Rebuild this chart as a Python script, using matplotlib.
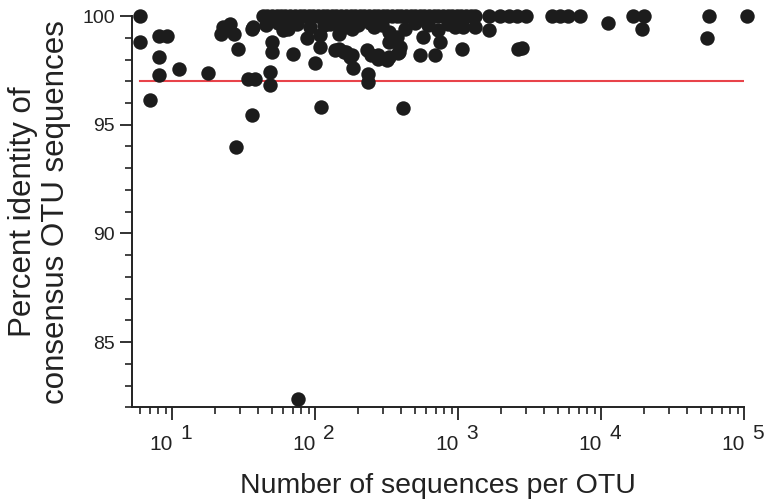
import matplotlib
matplotlib.use("Agg")
import matplotlib.pyplot as plt
from matplotlib.ticker import LogLocator, MultipleLocator, NullFormatter

# OTU size (number of sequences) and percent identity of consensus sequence
seqs_low = [6.0, 6.0, 8.1, 9.2, 8.1, 8.1, 7.0, 11.1, 17.9, 34.2, 38, 36, 28,
            22.7, 25.4, 21.9, 27.1, 29.1, 36, 37, 49.8, 49.8, 48.5, 48.5,
            69.8, 100, 109.6, 76]
pct_low = [100, 98.83, 99.08, 99.1, 98.14, 97.27, 96.15, 97.58, 97.39, 97.1,
           97.1, 95.47, 93.96, 99.5, 99.65, 99.19, 99.19, 98.5, 99.42, 99.5,
           98.83, 98.34, 97.45, 96.84, 98.27, 97.85, 95.8, 82.38]

# OTUs at 100% identity
seqs_top = [43, 46, 50, 54, 58, 62, 67, 72, 78, 84, 90, 97, 105, 113, 122,
            131, 141, 152, 164, 177, 190, 205, 221, 238, 256, 276, 297, 320,
            345, 372, 400, 431, 465, 500, 540, 580, 625, 675, 727, 783, 845,
            910, 980, 1055, 1140, 1230, 1320, 1630, 1970, 2250, 2560, 3000,
            4520, 5150, 5860, 7120, 16800, 19800, 57100, 105000]
pct_top = [100] * len(seqs_top)

# OTUs just under 100%
seqs_mid = [74.1, 92.2, 60, 127, 162, 146, 108, 292, 326, 426, 373, 571, 728,
            1089, 1315, 1630, 11140, 19300, 54800, 200, 240, 180, 260, 500,
            620, 850, 950, 140, 115, 55, 65, 45, 88]
pct_mid = [99.65, 99.5, 99.34, 99.65, 99.5, 99.19, 99.11, 99.57, 99.26,
           99.42, 99.03, 99.03, 99.34, 99.5, 99.5, 99.34, 99.68, 99.42, 99.0,
           99.6, 99.7, 99.4, 99.5, 99.7, 99.6, 99.65, 99.5, 99.75, 99.6, 99.7,
           99.4, 99.6, 99.0]

# lower identity OTUs
seqs_bot = [108, 138, 158, 180, 146, 165, 175, 229, 245, 277, 317, 378, 542,
            690, 1062, 2640, 2790, 185, 233, 233, 410, 326, 393, 277, 326,
            383, 748]
pct_bot = [98.58, 98.45, 98.34, 98.19, 98.5, 98.34, 98.11, 98.45, 98.2,
           98.04, 97.96, 98.31, 98.22, 98.19, 98.5, 98.5, 98.53, 97.6, 97.35,
           96.96, 95.78, 98.8, 98.58, 98.19, 98.11, 98.34, 98.8]

threshold_pct = 97
threshold_span = [6, 1e5]

decades = [10, 100, 1000, 10000, 100000]
exponents = ['1', '2', '3', '4', '5']

x_all = seqs_low + seqs_top + seqs_mid + seqs_bot
y_all = pct_low + pct_top + pct_mid + pct_bot

plt.rcParams['font.family'] = ['Liberation Sans', 'DejaVu Sans']
ink = '#222222'

fig = plt.figure(figsize=(7.68, 5.04), dpi=100)
ax = fig.add_axes([0.172, 0.192, 0.797, 0.776])

# threshold line
ax.plot(threshold_span, [threshold_pct, threshold_pct], color='#e8434a',
        lw=1.5, zorder=1)

ax.scatter(x_all, y_all, s=108, color='#1c1c1c', linewidths=0,
           zorder=3, clip_on=False)

ax.set_xscale('log')
ax.set_xlim(5.25, 1e5)
ax.set_ylim(82, 100)

ax.xaxis.set_major_locator(LogLocator(base=10, numticks=10))
ax.xaxis.set_minor_locator(LogLocator(base=10, subs=range(2, 10), numticks=20))
ax.xaxis.set_minor_formatter(NullFormatter())
ax.xaxis.set_major_formatter(NullFormatter())
ax.yaxis.set_major_locator(MultipleLocator(5))
ax.yaxis.set_minor_locator(MultipleLocator(1))

for s in ['top', 'right']:
    ax.spines[s].set_visible(False)
for s in ['left', 'bottom']:
    ax.spines[s].set_linewidth(1.4)
    ax.spines[s].set_color(ink)

ax.tick_params(which='major', direction='out', length=9, width=1.3,
               color=ink, labelsize=14, labelcolor=ink)
ax.tick_params(which='minor', direction='out', length=5, width=1.2,
               color=ink)

# decade labels written as "10" with a large raised exponent
for d, e in zip(decades, exponents):
    ax.annotate('10', xy=(d, 0), xycoords=('data', 'axes fraction'),
                xytext=(0.5, -20), textcoords='offset points',
                ha='right', va='top', fontsize=15, color=ink)
    ax.annotate(e, xy=(d, 0), xycoords=('data', 'axes fraction'),
                xytext=(6, -12), textcoords='offset points',
                ha='left', va='top', fontsize=15, color=ink)

ax.set_xlabel('Number of sequences per OTU', fontsize=20.5, color=ink,
              labelpad=35)
ax.set_ylabel('Percent identity of\nconsensus OTU sequences', fontsize=22.5,
              color=ink, labelpad=8, linespacing=1.12)

fig.savefig('out.png', dpi=100)
